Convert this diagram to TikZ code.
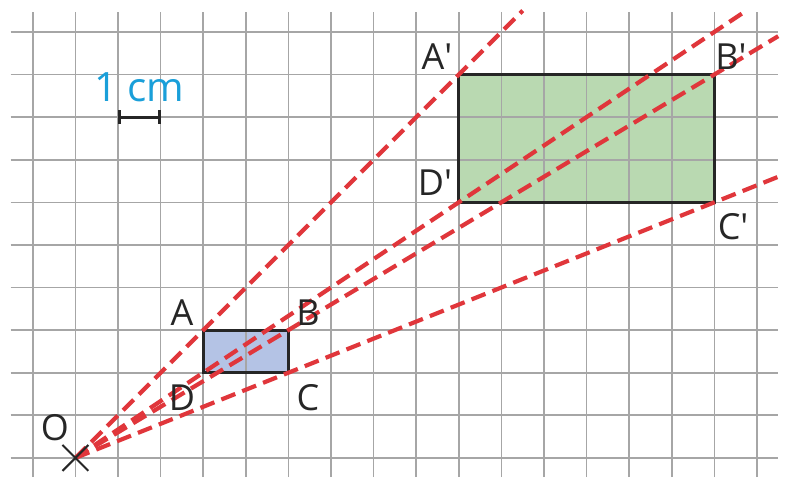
\documentclass[tikz,border=0pt]{standalone}
\usepackage{fontspec}
\setmainfont{Open Sans}
\usepackage{xcolor}
\usetikzlibrary{arrows.meta, calc, shapes.misc}

\definecolor{raycol}{HTML}{E0363B}
\definecolor{smallfill}{HTML}{B4C3E5}
\definecolor{bigfill}{HTML}{B9D9B1}
\definecolor{unitcol}{HTML}{1A9FD9}

\begin{document}
\begin{tikzpicture}[
    grid/.style={line width=1.1pt, draw=black!35},
    side/.style={line width=2pt, draw=black!85},
    ray/.style={line width=2.8pt, draw=raycol, dash pattern=on 10pt off 5pt},
    lbl/.style={font=\fontsize{24}{24}\selectfont, text=black!85, inner sep=0pt}
]
\useasboundingbox (-1.77,-0.45) rectangle (16.8,10.75);

% points of the figure and its image
\coordinate (O) at (0,0);
\coordinate (A) at (3,3);
\coordinate (B) at (5,3);
\coordinate (C) at (5,2);
\coordinate (D) at (3,2);
\coordinate (A2) at ($(O)!3!(A)$);
\coordinate (B2) at ($(O)!3!(B)$);
\coordinate (C2) at ($(O)!3!(C)$);
\coordinate (D2) at ($(O)!3!(D)$);

% fills under the grid
\fill[smallfill] (A) rectangle (C);
\fill[bigfill] (A2) rectangle (C2);

% squared paper
\foreach \x in {-1,...,16}
    \draw[grid] (\x,-0.45) -- (\x,10.47);
\foreach \y in {0,...,10}
    \draw[grid] (-1.52,\y) -- (16.5,\y);

\draw[side] (A) rectangle (C);
\draw[side] (A2) rectangle (C2);

% rays from O
\coordinate (rA) at ($(O)!3.5!(A)$);
\coordinate (rB) at ($(O)!3.3!(B)$);
\coordinate (rC) at ($(O)!3.3!(C)$);
\coordinate (rD) at ($(O)!5.25!(D)$);
\draw[ray] (O) -- (rA);
\draw[ray] (O) -- (rB);
\draw[ray] (O) -- (rC);
\draw[ray] (O) -- (rD);

\node[draw=black!85, cross out, line width=1.4pt, minimum size=0.56cm, inner sep=0pt] (Ox) at (O) {};

% labels
\node[lbl] (lO) at ($(O)+(-0.48,0.70)$) {O};
\node[lbl] (lA) at ($(A)+(-0.50,0.40)$) {A};
\node[lbl] (lB) at ($(B)+(0.46,0.40)$) {B};
\node[lbl] (lC) at ($(C)+(0.46,-0.59)$) {C};
\node[lbl] (lD) at ($(D)+(-0.50,-0.59)$) {D};
\node[lbl] (lA2) at ($(A2)+(-0.51,0.41)$) {A′};
\node[lbl] (lB2) at ($(B2)+(0.39,0.41)$) {B′};
\node[lbl] (lC2) at ($(C2)+(0.44,-0.58)$) {C′};
\node[lbl] (lD2) at ($(D2)+(-0.56,0.46)$) {D′};

% unit length
\coordinate (u1) at (1,8);
\coordinate (u2) at (2,8);
\draw[{Bar[width=9pt]}-{Bar[width=9pt]}, line width=2pt, black!85] (u1) -- (u2);
\node[font=\fontsize{27}{27}\selectfont, text=unitcol, inner sep=0pt] (unit) at ($(u1)!0.5!(u2)+(0,0.71)$) {1 cm};

\end{tikzpicture}
\end{document}
